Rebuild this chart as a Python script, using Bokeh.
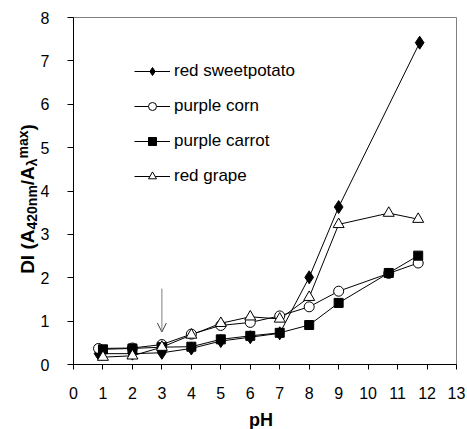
import math
from bokeh.plotting import figure
from bokeh.models import Range1d, FixedTicker, Legend, LegendItem, Label, Arrow, OpenHead
from bokeh.embed import file_html
from bokeh.resources import INLINE

# ---- data ----
ph_ticks = list(range(0, 14))
di_ticks = list(range(0, 9))

sweetpotato_ph = [0.85, 2, 3, 4, 5, 6, 7, 8, 9, 11.75]
sweetpotato_di = [0.25, 0.25, 0.27, 0.37, 0.54, 0.63, 0.72, 2.01, 3.63, 7.42]

corn_ph = [0.85, 2, 3, 4, 5, 6, 7, 8, 9, 10.7, 11.7]
corn_di = [0.37, 0.38, 0.46, 0.70, 0.90, 0.97, 1.12, 1.33, 1.69, 2.10, 2.34]

carrot_ph = [1.0, 2, 3, 4, 5, 6, 7, 8, 9, 10.7, 11.7]
carrot_di = [0.35, 0.37, 0.40, 0.41, 0.58, 0.66, 0.73, 0.91, 1.42, 2.11, 2.51]

grape_ph = [1.0, 2, 3, 4, 5, 6, 7, 8, 9, 10.7, 11.7]
grape_di = [0.17, 0.20, 0.40, 0.68, 0.95, 1.10, 1.05, 1.55, 3.23, 3.49, 3.35]

series_names = ["red sweetpotato", "purple corn", "purple carrot", "red grape"]

arrow_ph = 3
arrow_from = 1.75
arrow_to = 0.75

FONT = "Liberation Sans"
X0, X1, Y0, Y1 = 0, 13, 0, 8
W, H = 467, 429
LEFT, RIGHT, TOP, BOTTOM = 73, 11, 17, 65     # pixel margins around the data box
px_x = (W - LEFT - RIGHT) / (X1 - X0)
px_y = (H - TOP - BOTTOM) / (Y1 - Y0)

p = figure(width=W, height=H, output_backend="svg", toolbar_location=None,
           x_range=Range1d(X0 - LEFT / px_x, X1 + RIGHT / px_x),
           y_range=Range1d(Y0 - BOTTOM / px_y, Y1 + TOP / px_y),
           min_border=0)
p.background_fill_color = "white"
p.border_fill_color = "white"
p.outline_line_color = None
p.xgrid.visible = False
p.ygrid.visible = False

# gray plot-area border (top and right)
p.line([X0, X1, X1], [Y1, Y1, Y0], line_color="#808080", line_width=1)

# axes, pinned at the data origin
p.xaxis.fixed_location = Y0
p.yaxis.fixed_location = X0
p.xaxis.bounds = (X0, X1)
p.yaxis.bounds = (Y0, Y1)
p.xaxis.ticker = FixedTicker(ticks=ph_ticks)
p.yaxis.ticker = FixedTicker(ticks=di_ticks)
for ax in (p.xaxis[0], p.yaxis[0]):
    ax.axis_line_color = "black"
    ax.axis_line_width = 1
    ax.major_tick_line_color = "black"
    ax.major_tick_in = 0
    ax.minor_tick_line_color = None
    ax.major_label_text_font = FONT
    ax.major_label_text_font_size = "16px"
    ax.major_label_text_color = "black"
    ax.axis_label = None
p.xaxis.major_tick_out = 5
p.yaxis.major_tick_out = 6
p.xaxis.major_label_standoff = 17
p.yaxis.major_label_standoff = 18

# series
r_sp_l = p.line(sweetpotato_ph, sweetpotato_di, line_color="black", line_width=1)
r_co_l = p.line(corn_ph, corn_di, line_color="black", line_width=1)
r_ca_l = p.line(carrot_ph, carrot_di, line_color="black", line_width=1)
r_gr_l = p.line(grape_ph, grape_di, line_color="black", line_width=1)

r_sp_m = p.scatter(sweetpotato_ph, sweetpotato_di, marker="diamond", size=13,
                   fill_color="black", line_color="black")
r_co_m = p.scatter(corn_ph, corn_di, marker="circle", size=10,
                   fill_color="white", line_color="black", line_width=1)
r_ca_m = p.scatter(carrot_ph, carrot_di, marker="square", size=9,
                   fill_color="black", line_color="black")
r_gr_m = p.scatter(grape_ph, grape_di, marker="triangle", size=11,
                   fill_color="white", line_color="black", line_width=1)

legend = Legend(items=[
    LegendItem(label=series_names[0], renderers=[r_sp_l, r_sp_m]),
    LegendItem(label=series_names[1], renderers=[r_co_l, r_co_m]),
    LegendItem(label=series_names[2], renderers=[r_ca_l, r_ca_m]),
    LegendItem(label=series_names[3], renderers=[r_gr_l, r_gr_m]),
], location=(LEFT + 61, BOTTOM + 178))
legend.glyph_width = 36
legend.glyph_height = 20
legend.label_height = 20
legend.spacing = 15
legend.padding = 0
legend.margin = 0
legend.label_standoff = 4
legend.label_text_font = FONT
legend.label_text_font_size = "17px"
legend.label_text_color = "black"
legend.border_line_alpha = 0
legend.background_fill_alpha = 0
p.add_layout(legend)

# arrow
p.add_layout(Arrow(end=OpenHead(size=9, line_color="#404040", line_width=1),
                   x_start=arrow_ph, y_start=arrow_from, x_end=arrow_ph, y_end=arrow_to,
                   line_color="#808080", line_width=1))

# x-axis title
p.add_layout(Label(x=(X0 + X1) / 2 - 4 / px_x, y=Y0 - 55 / px_y, text="pH",
                   text_align="center", text_baseline="alphabetic", text_font=FONT,
                   text_font_size="18px", text_font_style="bold", text_color="black"))

# y-axis title with sub/superscripts, built from rotated pieces (offsets in px)
main_px, sub_px = 19, 14
pieces = [
    ("DI (A", main_px, 0, 2.333),
    ("420nm", sub_px, 4, 3.168),
    ("/A", main_px, 0, 1.0),
    ("\u03bb", sub_px, 4, 0.55),
    ("max", sub_px, -5, 2.001),
    (")", main_px, 0, 0.333),
]
total = sum(sz * w for _, sz, _, w in pieces)
start = (H - TOP - BOTTOM) / 2 - total / 2 - 8
base_x = -46
pos = start
for txt, sz, dx, w in pieces:
    p.add_layout(Label(x=X0 + (base_x + dx) / px_x, y=Y0 + pos / px_y,
                       text=txt, angle=math.pi / 2, text_align="left",
                       text_baseline="alphabetic", text_font=FONT,
                       text_font_size=f"{sz}px", text_font_style="bold",
                       text_color="black"))
    pos += sz * w

open("out.html", "w").write(file_html(p, INLINE))
